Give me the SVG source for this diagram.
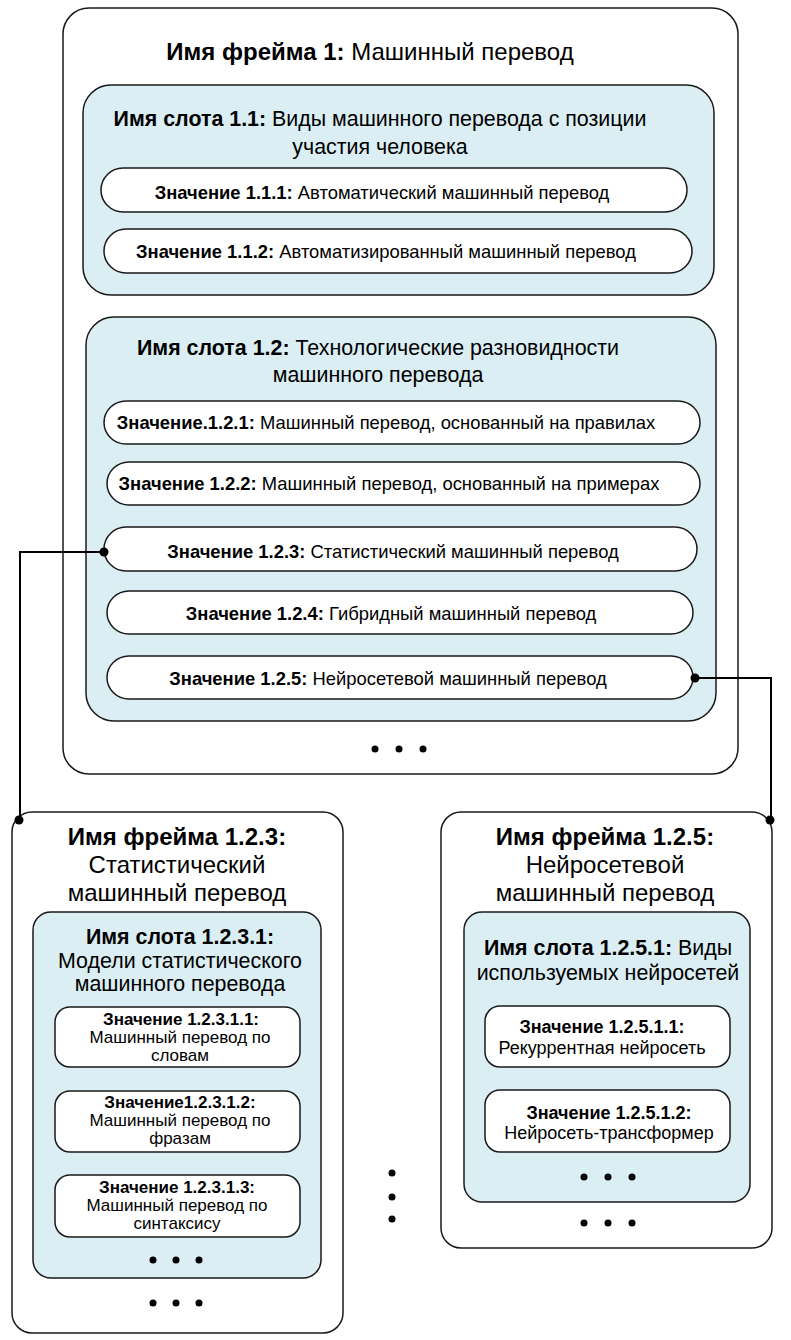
<svg xmlns="http://www.w3.org/2000/svg" width="791" height="1340" viewBox="0 0 791 1340">
<style>
text{font-family:"Liberation Sans",Arial,sans-serif;fill:#000;text-anchor:middle}
.b{font-weight:bold}
.ft{font-size:24px}
.st{font-size:21.4px}
.vt{font-size:18.4px}
.bv{font-size:18px}
.bs{font-size:17px}
.frame{fill:#fff;stroke:#1a1a1a;stroke-width:1.5}
.slot{fill:#DAEEF3;stroke:#1a1a1a;stroke-width:1.5}
.val{fill:#fff;stroke:#1a1a1a;stroke-width:1.5}
.dot{fill:#000}
.conn{fill:none;stroke:#000;stroke-width:2}
</style>
<g id="frame1">
<rect class="frame" x="63" y="8" width="675" height="766" rx="26"/>
<text class="ft" x="370" y="60"><tspan class="b">Имя фрейма 1:</tspan> Машинный перевод</text>
<circle class="dot" cx="375" cy="749" r="3.5"/><circle class="dot" cx="399" cy="749" r="3.5"/><circle class="dot" cx="423" cy="749" r="3.5"/>
</g>
<g id="slot11">
<rect class="slot" x="83" y="85" width="631" height="210" rx="28"/>
<text class="st" x="380" y="126"><tspan class="b">Имя слота 1.1:</tspan> Виды машинного перевода с позиции</text>
<text class="st" x="380" y="154">участия человека</text>
</g>
<g id="val111">
<rect class="val" x="101" y="168" width="586" height="44" rx="22"/>
<text class="vt" x="382" y="199"><tspan class="b">Значение 1.1.1:</tspan> Автоматический машинный перевод</text>
</g>
<g id="val112">
<rect class="val" x="104" y="229" width="588" height="44" rx="22"/>
<text class="vt" x="386" y="258"><tspan class="b">Значение 1.1.2:</tspan> Автоматизированный машинный перевод</text>
</g>
<g id="slot12">
<rect class="slot" x="86" y="317" width="630" height="404" rx="28"/>
<text class="st" x="378" y="355"><tspan class="b">Имя слота 1.2:</tspan> Технологические разновидности</text>
<text class="st" x="378" y="382">машинного перевода</text>
</g>
<g id="val121">
<rect class="val" x="104" y="401" width="596" height="43" rx="22"/>
<text class="vt" x="386" y="429"><tspan class="b">Значение.1.2.1:</tspan> Машинный перевод, основанный на правилах</text>
</g>
<g id="val122">
<rect class="val" x="107" y="462" width="593" height="43" rx="22"/>
<text class="vt" x="389" y="490"><tspan class="b">Значение 1.2.2:</tspan> Машинный перевод, основанный на примерах</text>
</g>
<g id="val123">
<rect class="val" x="104" y="527" width="593" height="44" rx="22"/>
<text class="vt" x="393" y="558"><tspan class="b">Значение 1.2.3:</tspan> Статистический машинный перевод</text>
</g>
<g id="val124">
<rect class="val" x="107" y="591" width="586" height="43" rx="22"/>
<text class="vt" x="391" y="620"><tspan class="b">Значение 1.2.4:</tspan> Гибридный машинный перевод</text>
</g>
<g id="val125">
<rect class="val" x="107" y="656" width="586" height="43" rx="22"/>
<text class="vt" x="388" y="685"><tspan class="b">Значение 1.2.5:</tspan> Нейросетевой машинный перевод</text>
</g>
<g id="frame123">
<rect class="frame" x="12" y="812" width="331" height="521" rx="20"/>
<text class="ft b" x="177" y="845">Имя фрейма 1.2.3:</text>
<text class="ft" x="177" y="873">Статистический</text>
<text class="ft" x="177" y="901">машинный перевод</text>
<circle class="dot" cx="153" cy="1303" r="3.5"/><circle class="dot" cx="176" cy="1303" r="3.5"/><circle class="dot" cx="199" cy="1303" r="3.5"/>
</g>
<g id="slot1231">
<rect class="slot" x="33" y="912" width="288" height="366" rx="18"/>
<text class="st b" x="180" y="944">Имя слота 1.2.3.1:</text>
<text class="st" x="180" y="968">Модели статистического</text>
<text class="st" x="180" y="991">машинного перевода</text>
<circle class="dot" cx="153" cy="1260" r="3.5"/><circle class="dot" cx="176" cy="1260" r="3.5"/><circle class="dot" cx="199" cy="1260" r="3.5"/>
</g>
<g id="val12311">
<rect class="val" x="55" y="1007" width="245" height="60" rx="15"/>
<text class="bs b" x="181" y="1025">Значение 1.2.3.1.1:</text>
<text class="bs" x="180" y="1043">Машинный перевод по</text>
<text class="bs" x="180" y="1061">словам</text>
</g>
<g id="val12312">
<rect class="val" x="55" y="1091" width="245" height="61" rx="15"/>
<text class="bs b" x="180" y="1108">Значение1.2.3.1.2:</text>
<text class="bs" x="180" y="1126">Машинный перевод по</text>
<text class="bs" x="180" y="1144">фразам</text>
</g>
<g id="val12313">
<rect class="val" x="55" y="1175" width="245" height="62" rx="15"/>
<text class="bs b" x="177" y="1193">Значение 1.2.3.1.3:</text>
<text class="bs" x="177" y="1211">Машинный перевод по</text>
<text class="bs" x="177" y="1229">синтаксису</text>
</g>
<g id="frame125">
<rect class="frame" x="441" y="812" width="331" height="436" rx="20"/>
<text class="ft b" x="605" y="845">Имя фрейма 1.2.5:</text>
<text class="ft" x="605" y="873">Нейросетевой</text>
<text class="ft" x="605" y="901">машинный перевод</text>
<circle class="dot" cx="584" cy="1223" r="3.5"/><circle class="dot" cx="608" cy="1223" r="3.5"/><circle class="dot" cx="632" cy="1223" r="3.5"/>
</g>
<g id="slot1251">
<rect class="slot" x="464" y="912" width="286" height="290" rx="18"/>
<text class="st" x="608" y="955"><tspan class="b">Имя слота 1.2.5.1:</tspan> Виды</text>
<text class="st" x="608" y="980">используемых нейросетей</text>
<circle class="dot" cx="584" cy="1177" r="3.5"/><circle class="dot" cx="608" cy="1177" r="3.5"/><circle class="dot" cx="632" cy="1177" r="3.5"/>
</g>
<g id="val12511">
<rect class="val" x="485" y="1006" width="245" height="61" rx="15"/>
<text class="bv b" x="602" y="1033">Значение 1.2.5.1.1:</text>
<text class="bv" x="602" y="1054">Рекуррентная нейросеть</text>
</g>
<g id="val12512">
<rect class="val" x="485" y="1090" width="245" height="62" rx="15"/>
<text class="bv b" x="609" y="1119">Значение 1.2.5.1.2:</text>
<text class="bv" x="609" y="1139">Нейросеть-трансформер</text>
</g>
<g id="vdots">
<circle class="dot" cx="392" cy="1173" r="3.5"/><circle class="dot" cx="392" cy="1197" r="3.5"/><circle class="dot" cx="392" cy="1219" r="3.5"/>
</g>
<g id="connectors">
<polyline class="conn" points="104,552 20,552 20,820"/>
<circle class="dot" cx="104" cy="552" r="4.5"/>
<circle class="dot" cx="19" cy="820" r="4.5"/>
<polyline class="conn" points="695,678 771,678 771,820"/>
<circle class="dot" cx="695" cy="678" r="4.5"/>
<circle class="dot" cx="770" cy="820" r="4.5"/>
</g>
</svg>
